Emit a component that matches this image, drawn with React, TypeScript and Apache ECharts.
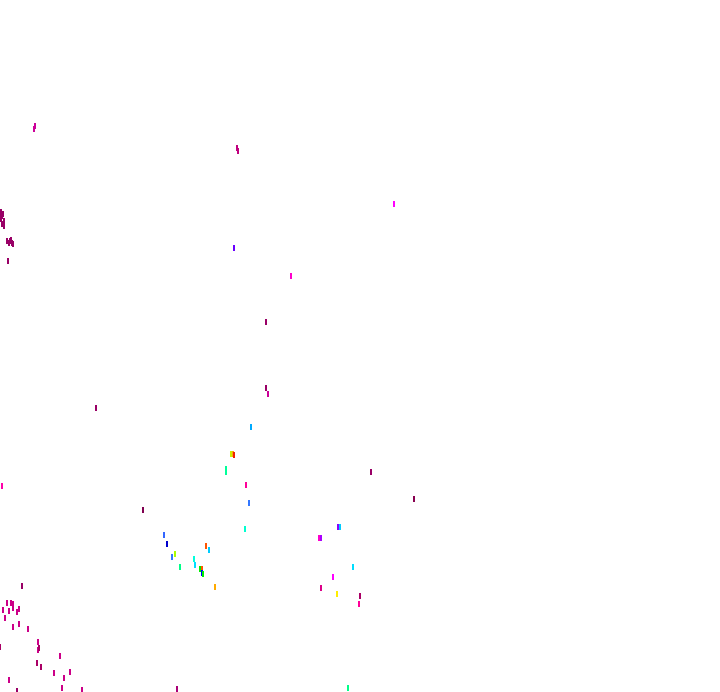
import React, { useEffect, useRef } from "react";
import * as echarts from "echarts";

// Each mark: x value, y value, colour
const xValues = [
  34, 35, 238, 237, 394, 1, 3, 1, 4, 2, 0, 2, 4, 7, 10, 12, 9, 11, 13, 8, 234, 291, 266, 266, 268, 96,
  251, 231, 233, 234, 226, 226, 246, 371, 414, 2, 249, 143, 245, 164, 167, 338, 340, 319, 321,
  206, 209, 175, 172, 194, 180, 195, 200, 202, 202, 203, 353, 215, 333, 321, 337, 360, 359, 348,
  22, 7, 11, 13, 13, 19, 3, 9, 17, 5, 19, 13, 28, 0, 38, 38, 39, 60, 37, 41, 54, 70, 64, 9, 62, 82, 17, 177,
];
const yValues = [
  129, 126, 151, 148, 204, 212, 214, 219, 221, 224, 217, 216, 226, 241, 241, 243, 243, 240, 244, 261, 248, 276, 322, 388, 394, 408,
  427, 454, 454, 455, 469, 472, 485, 472, 499, 486, 503, 510, 529, 535, 544, 527, 527, 538, 538,
  546, 550, 554, 557, 559, 567, 565, 569, 569, 573, 574, 567, 587, 577, 588, 594, 596, 604, 688,
  586, 603, 603, 604, 608, 609, 610, 611, 612, 618, 624, 627, 629, 647, 642, 650, 648, 656, 663, 667, 673, 672, 678, 680, 688, 690, 691, 689,
];
const markColors = [
  "#cc0099", "#cc0099", "#c0007f", "#c0007f", "#ff00ff", "#990066", "#990066", "#990066", "#990066", "#990066", "#990066", "#990066", "#990066", "#990066", "#990066", "#990066", "#990066", "#990066", "#990066", "#990066", "#6a00ff", "#ff00cc", "#990066", "#990066", "#cc0099", "#990066",
  "#00aaff", "#ccee00", "#ffaa00", "#ee2200", "#00ff99", "#00ff99", "#ff0099", "#990066", "#880050", "#ff00aa", "#3377ff", "#800050", "#00ffd0", "#3366ff", "#0000cc", "#8800ff", "#00ccff", "#ff00cc", "#aa00ff",
  "#ff5500", "#00ccff", "#aaff00", "#3377ff", "#00ffdd", "#00ff88", "#00ddff", "#00ee00", "#ff5500", "#0000ff", "#00ee00", "#00ddff", "#ffaa00", "#ff00ff", "#dd0088", "#ffee00", "#aa0066", "#ff0099", "#00ff88",
  "#990066", "#cc0088", "#cc0088", "#cc0088", "#cc0088", "#cc0088", "#cc0088", "#cc0088", "#cc0088", "#cc0088", "#cc0088", "#cc0088", "#cc0088", "#aa0066", "#cc0088", "#cc0088", "#aa0066", "#cc0088", "#aa0066", "#aa0066", "#cc0088", "#cc0088", "#cc0088", "#cc0088", "#cc0088", "#cc0088", "#990066", "#aa0077",
];

export default function App() {
  const ref = useRef<HTMLDivElement>(null);
  useEffect(() => {
    if (!ref.current) return;
    const chart = echarts.init(ref.current, null, { renderer: "svg" });
    const data = xValues.map((x, i) => ({
      value: [x, yValues[i]],
      itemStyle: { color: markColors[i], opacity: 1 },
    }));
    chart.setOption({
      animation: false,
      backgroundColor: "#ffffff",
      grid: { left: 0, right: 0, top: 0, bottom: 0 },
      xAxis: { type: "value", min: 0, max: 720, show: false },
      yAxis: { type: "value", min: 0, max: 692, inverse: true, show: false },
      series: [
        {
          type: "scatter",
          symbol: "rect",
          symbolSize: [2, 6],
          itemStyle: { opacity: 1 },
          data,
        },
      ],
    });
    return () => chart.dispose();
  }, []);
  return (
    <div
      ref={ref}
      style={{ position: "fixed", left: 0, top: 0, width: 720, height: 692, background: "#fff" }}
    />
  );
}
